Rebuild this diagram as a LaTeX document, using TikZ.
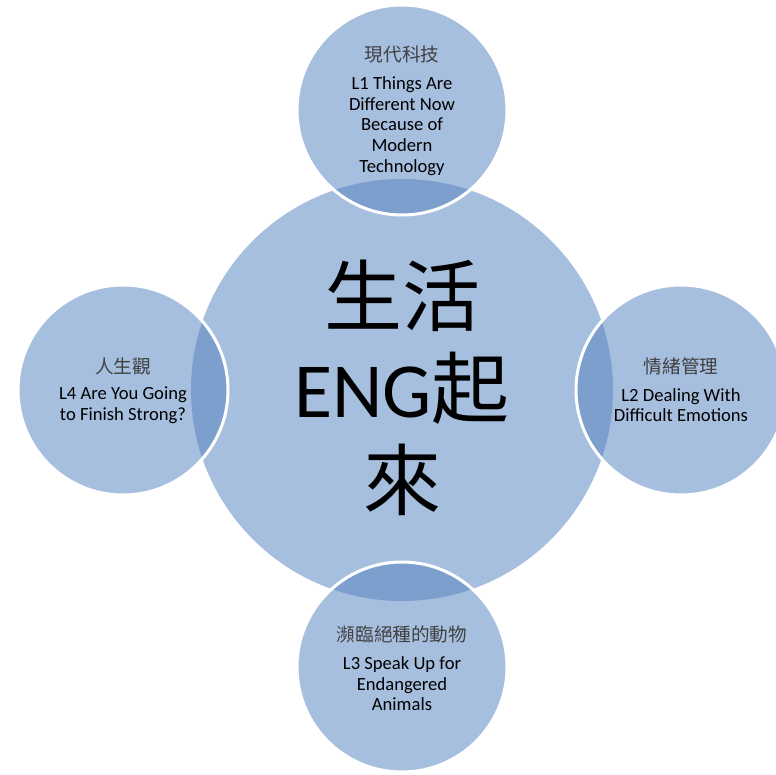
\documentclass[tikz,border=0pt]{standalone}
\usepackage{fontspec}
\setmainfont{Carlito}
\newfontfamily\cjk{Noto Sans CJK TC}
\definecolor{lightb}{HTML}{A7BFDE}
\definecolor{darkb}{HTML}{7C9FCD}
\definecolor{hdr}{HTML}{404040}
\begin{document}
\begin{tikzpicture}[x=1pt,y=-1pt,
  body/.style={align=center,inner sep=0pt,text=black,font=\fontsize{18.6}{20.6}\selectfont},
  head/.style={inner sep=0pt,text=hdr,font=\cjk\fontsize{18.6}{20}\selectfont},
  big/.style={align=center,inner sep=0pt,text=black,font=\fontsize{78}{92}\selectfont}]
\useasboundingbox (0,0) rectangle (776,775);
\clip (0,0) rectangle (776,775);
\coordinate (C) at (402,390);
\coordinate (T) at (402,110);
\coordinate (R) at (681,390);
\coordinate (B) at (402,667);
\coordinate (L) at (123,390);
\fill[lightb] (C) circle (211pt);
\foreach \p in {T,R,B,L} {
  \fill[lightb] (\p) circle (105pt);
  \begin{scope}
    \clip (\p) circle (105pt);
    \fill[darkb] (C) circle (211pt);
  \end{scope}
  \draw[white, line width=3pt] (\p) circle (105pt);
}
\node[big] (center) at (402,388) {{\cjk 生活}\\ENG{\cjk 起}\\{\cjk 來}};
\node[head] (h1) at (402,54) {現代科技};
\node[body] (t1) at (402,126) {L1 Things Are\\Different Now\\Because of\\Modern\\Technology};
\node[head] (h2) at (681,366) {情緒管理};
\node[body] (t2) at (681,405) {L2 Dealing With\\Difficult Emotions};
\node[head] (h3) at (402,634) {瀕臨絕種的動物};
\node[body] (t3) at (402,684) {L3 Speak Up for\\Endangered\\Animals};
\node[head] (h4) at (123,366) {人生觀};
\node[body] (t4) at (123,405) {L4 Are You Going\\to Finish Strong?};
\end{tikzpicture}
\end{document}
